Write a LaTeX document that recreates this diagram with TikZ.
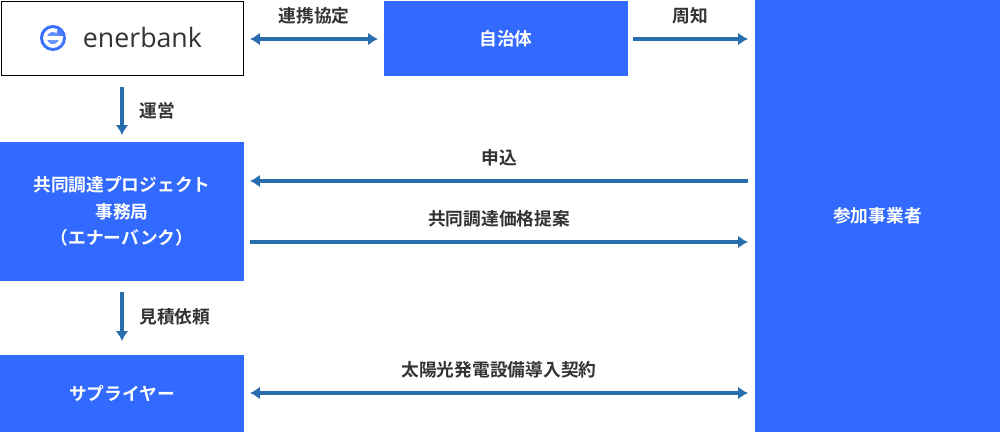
\documentclass[tikz,border=0pt]{standalone}
\usepackage{fontspec}
\newfontfamily\jp{Noto Sans CJK JP}[BoldFont={* Bold}]
\setsansfont{Open Sans}
\usetikzlibrary{positioning,arrows.meta}
\definecolor{boxblue}{RGB}{50,105,255}
\definecolor{arrowblue}{RGB}{40,110,175}
\definecolor{textgray}{RGB}{51,51,51}
\begin{document}
\begin{tikzpicture}[x=0.025cm,y=-0.025cm,
        block/.style={fill=boxblue, text=white, font=\jp\bfseries\fontsize{12.6}{19}\selectfont, align=center, inner sep=0pt},
        line/.style={-{Latex[length=7pt,width=9pt]}, arrowblue, line width=2.2pt},
        both/.style={{Latex[length=7pt,width=9pt]}-{Latex[length=7pt,width=9pt]}, arrowblue, line width=2.2pt},
        lbl/.style={text=textgray, font=\jp\bfseries\fontsize{12.6}{14}\selectfont}]
        \useasboundingbox (0,0) rectangle (1000,432);

        % Boxes
        \node[draw=black, line width=0.6pt, inner sep=0pt, minimum width=6.05cm, minimum height=1.85cm] (E) at (122,38.5) {};
        \node[block, minimum width=6.1cm, minimum height=1.875cm] (G) at (506,38.5) {自治体};
        \node[block, minimum width=6.125cm, minimum height=10.8cm] (P) at (877.5,216) {参加事業者};
        \node[block, minimum width=6.1cm, minimum height=3.475cm] (J) at (122,211.5) {共同調達プロジェクト\\事務局\\（エナーバンク）};
        \node[block, minimum width=6.1cm, minimum height=1.925cm] (S) at (122,393.5) {サプライヤー};

        % Logo
        \shade[inner color=boxblue!60, outer color=boxblue] (53,38) circle (13);
        \draw[white, line width=2.6pt] (45,38) -- (61,38) arc (0:300:8);
        \node[text=textgray, font=\sffamily\fontsize{19}{19}\selectfont, anchor=west] (Etext) at (78,37) {enerbank};

        % Connectors
        \coordinate (a1) at (250,39); \coordinate (a2) at (378,39);
        \draw[both] (a1) -- (a2) node[lbl, midway, above=6pt] {連携協定};
        \coordinate (b1) at (633,39); \coordinate (b2) at (748,39);
        \draw[line] (b1) -- (b2) node[lbl, midway, above=6pt] {周知};
        \coordinate (c1) at (122,87); \coordinate (c2) at (122,135);
        \draw[line] (c1) -- (c2) node[lbl, midway, right=8pt] {運営};
        \coordinate (d1) at (748,181); \coordinate (d2) at (250,181);
        \draw[line] (d1) -- (d2) node[lbl, midway, above=6pt] {申込};
        \coordinate (e1) at (250,242); \coordinate (e2) at (748,242);
        \draw[line] (e1) -- (e2) node[lbl, midway, above=6pt] {共同調達価格提案};
        \coordinate (f1) at (122,292); \coordinate (f2) at (122,341);
        \draw[line] (f1) -- (f2) node[lbl, midway, right=8pt] {見積依頼};
        \coordinate (g1) at (250,393); \coordinate (g2) at (748,393);
        \draw[both] (g1) -- (g2) node[lbl, midway, above=6pt] {太陽光発電設備導入契約};
    \end{tikzpicture}
\end{document}
